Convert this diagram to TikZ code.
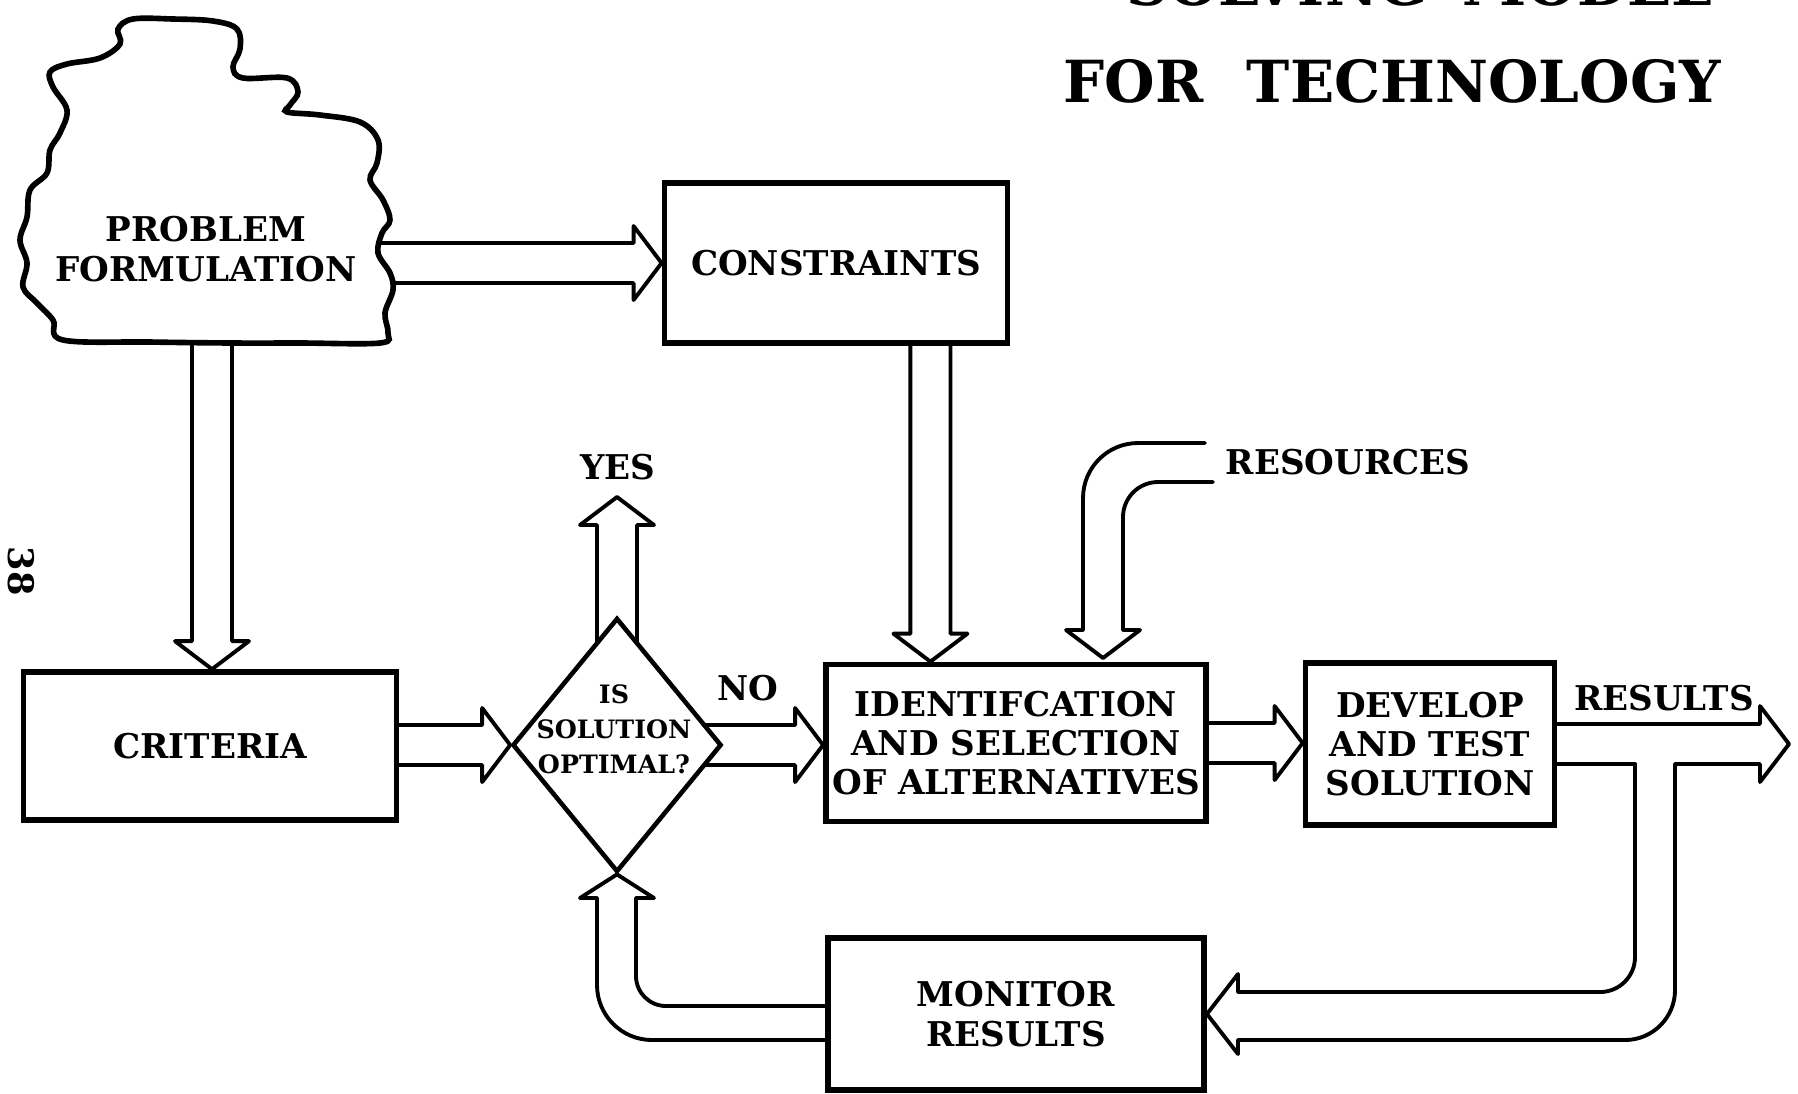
\documentclass[tikz,border=0pt]{standalone}
\usepackage{fontspec}
\setmainfont{DejaVu Serif}
\usetikzlibrary{calc,shapes.geometric,backgrounds}

% hollow block arrow, open at the tail #1, tip at #2
\newcommand{\blockarrow}[2]{%
  \draw[barrow] ($(#1)!0.2cm!90:(#2)$)
    -- ($(#2)!0.28cm!(#1)!0.2cm!90:(#2)$)
    -- ($(#2)!0.28cm!(#1)!0.37cm!90:(#2)$)
    -- (#2)
    -- ($(#2)!0.28cm!(#1)!0.37cm!-90:(#2)$)
    -- ($(#2)!0.28cm!(#1)!0.2cm!-90:(#2)$)
    -- ($(#1)!0.2cm!-90:(#2)$);}

\begin{document}
\begin{tikzpicture}[x=0.01cm,y=-0.01cm,
	lbl/.style={font=\bfseries\fontsize{9.7}{11.2}\selectfont,align=center},
	box/.style={lbl,draw,fill=white,line width=1.6pt,inner sep=0pt},
	decision/.style={diamond,draw,fill=white,line width=1.3pt,inner sep=0pt,
		minimum width=2.09cm,minimum height=2.54cm},
	barrow/.style={draw,line width=1.1pt,line join=round,line cap=round},
	cloudline/.style={draw,fill=white,line width=1.6pt}]
	\useasboundingbox (0,0) rectangle (1798,1093);

	% heading, its first line runs off the top
	\begin{scope}
		\clip (0,0) rectangle (1798,1093);
		\node[anchor=base east,font=\bfseries\fontsize{16.5}{18}\selectfont] (headtop) at (1725,5)
		{SOLVING\hspace{0.6em}MODEL};
	\end{scope}
	\node[anchor=base west,font=\bfseries\fontsize{16.5}{18}\selectfont] (headline) at (1051,102)
	{FOR\hspace{0.75em}TECHNOLOGY};
	\node[rotate=-90,font=\bfseries\fontsize{10}{10}\selectfont] (pageno) at (21,571) {38};

	% problem cloud
	\draw[cloudline] plot[smooth cycle,tension=0.6] coordinates {
		(120,44) (118,29) (133,19) (173,19) (213,21) (237,29) (240,49) (233,67)
		(243,78) (287,78) (298,92) (290,105) (287,112) (320,115) (360,122)
		(378,140) (377,163) (370,180) (383,200) (390,220) (382,233) (378,253)
		(390,273) (393,290) (385,313) (388,333) (380,343) (300,343) (233,343)
		(150,342) (63,340) (53,320) (37,303) (23,287) (27,263) (20,240) (27,217)
		(30,190) (47,173) (50,150) (60,133) (67,110) (53,87) (50,72) (67,64)
		(100,58)};
	\node[lbl] (prob) at (206,249) {PROBLEM\\FORMULATION};

	\node[box,minimum width=3.43cm,minimum height=1.6cm] (cons) at (836,263) {CONSTRAINTS};
	\node[box,minimum width=3.73cm,minimum height=1.48cm] (crit) at (210,746) {CRITERIA};
	\node[decision] (dec) at (617,745) {};
	\node[font=\bfseries\fontsize{7.2}{10}\selectfont,align=center] (dectext) at (614,729)
	{IS\\SOLUTION\\OPTIMAL?};
	\node[box,minimum width=3.8cm,minimum height=1.57cm] (alt) at (1016,743)
	{IDENTIFCATION\\AND SELECTION\\OF ALTERNATIVES};
	\node[box,minimum width=2.49cm,minimum height=1.62cm] (dev) at (1430,744)
	{DEVELOP\\AND TEST\\SOLUTION};
	\node[box,minimum width=3.76cm,minimum height=1.52cm] (mon) at (1016,1014)
	{MONITOR\\RESULTS};

	\node[lbl] (yes) at (618,467) {YES};
	\node[lbl] (no) at (748,688) {NO};
	\node[lbl] (res) at (1348,462) {RESOURCES};
	\node[lbl] (out) at (1664,698) {RESULTS};

	\begin{pgfonlayer}{background}
		\coordinate (p1) at (350,263);
		\coordinate (p2) at (212,320);
		\coordinate (c1) at ($(cons.south east)+(-80,-10)$);
		\coordinate (yestip) at (617,497);
		\blockarrow{p1}{cons.west}
		\blockarrow{p2}{p2 |- crit.north}
		\blockarrow{c1}{c1 |- alt.north}
		\blockarrow{crit.center |- dec.west}{dec.west}
		\blockarrow{dec.center}{dec.center -| alt.west}
		\blockarrow{dec.center}{dec.center |- yestip}
		\blockarrow{alt.center}{alt.center -| dev.west}

		% resources, bent down into the alternatives box
		\draw[barrow,rounded corners=0.55cm] (1205,443) -- (1083,443) -- (1083,630);
		\draw[barrow] (1083,630) -- (1066,630) -- (1103,658) -- (1140,630) -- (1123,630);
		\draw[barrow,rounded corners=0.35cm] (1123,630) -- (1123,482) -- (1213,482);

		% results out, with the branch back to monitoring
		\coordinate (rtip) at (1789,744);
		\draw[barrow] ($(dev.east)+(0,-20)$) -- (1760,724) -- (1760,706) -- (rtip)
		-- (1760,782) -- (1760,764) -- (1675,764);
		\draw[barrow,rounded corners=0.5cm] (1675,764) -- (1675,1040) -- (1238,1040);
		\draw[barrow] (1238,1040) -- (1238,1054) -- (mon.east) -- (1238,974) -- (1238,992);
		\draw[barrow,rounded corners=0.35cm] (1238,992) -- (1635,992) -- (1635,764);
		\draw[barrow] (1635,764) -- ($(dev.east)+(0,20)$);

		% monitoring back up to the decision
		\draw[barrow,rounded corners=0.55cm] ($(mon.west)+(0,26)$) -- (597,1040) -- (597,898);
		\draw[barrow] (597,898) -- (580,898) -- (dec.south) -- (654,898) -- (636,898);
		\draw[barrow,rounded corners=0.3cm] (636,898) -- (636,1006) -- ($(mon.west)+(0,-8)$);
	\end{pgfonlayer}
\end{tikzpicture}
\end{document}
